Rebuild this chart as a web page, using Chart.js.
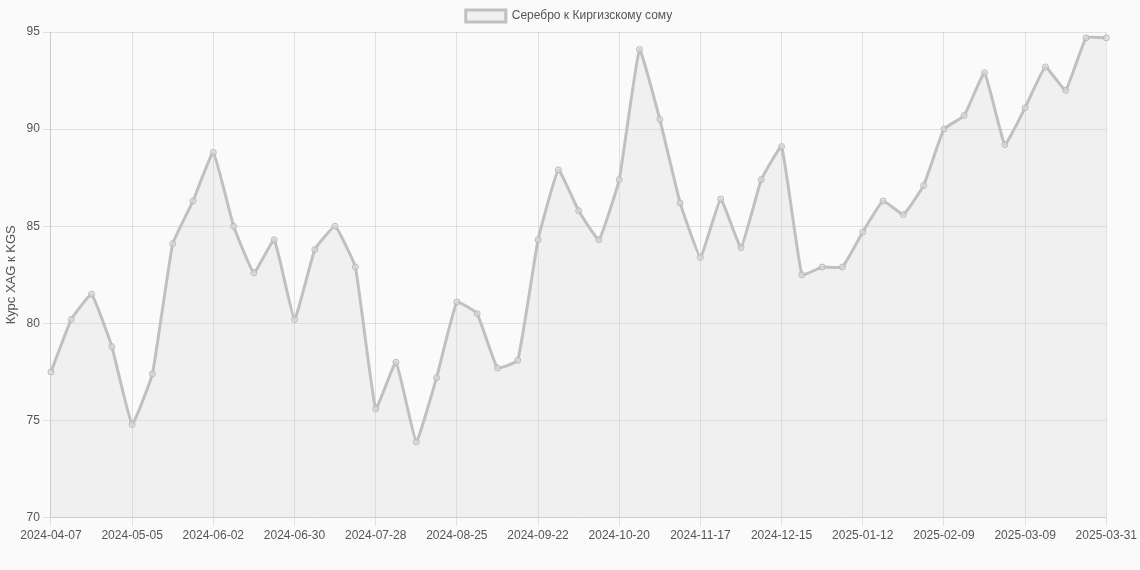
<!DOCTYPE html>
<html>
<head>
<meta charset="utf-8">
<script src="https://cdn.jsdelivr.net/npm/chart.js@4"></script>
<style>
  html, body { margin: 0; padding: 0; background: #fafafa; }
  #wrap { width: 1140px; height: 570px; }
</style>
</head>
<body>
<div id="wrap"><canvas id="chart"></canvas></div>
<script>
// weekly dates, last one is 2025-03-31
const dates = [];
(function () {
    const start = new Date('2024-04-07T12:00:00Z');
    for (let i = 0; i < 52; i++) {
        const d = new Date(start.getTime() + i * 7 * 86400000);
        dates.push(d.toISOString().slice(0, 10));
    }
    dates.push('2025-03-31');
})();

const rates = [
    77.5, 80.2, 81.5, 78.8, 74.8, 77.4, 84.1, 86.3, 88.8, 85.0,
    82.6, 84.3, 80.2, 83.8, 85.0, 82.9, 75.6, 78.0, 73.9, 77.2,
    81.1, 80.5, 77.7, 78.1, 84.3, 87.9, 85.8, 84.3, 87.4, 94.1,
    90.5, 86.2, 83.4, 86.4, 83.9, 87.4, 89.1, 82.5, 82.9, 82.9,
    84.7, 86.3, 85.6, 87.1, 90.0, 90.7, 92.9, 89.2, 91.1, 93.2,
    92.0, 94.7, 94.7
];

const seriesLabel = 'Серебро к Киргизскому сому';
const yTitle = 'Курс XAG к KGS';

Chart.defaults.font.family = "'Liberation Sans', Arial, sans-serif";
Chart.defaults.color = '#555';

new Chart(document.getElementById('chart'), {
    type: 'line',
    data: {
        labels: dates,
        datasets: [{
            label: seriesLabel,
            data: rates,
            borderColor: 'rgba(192,192,192,1)',
            backgroundColor: 'rgba(200,200,200,0.2)',
            borderWidth: 3,
            fill: true,
            tension: 0.1,
            pointRadius: 3,
            pointBackgroundColor: 'rgba(220,220,220,0.6)',
            pointBorderColor: 'rgba(185,185,185,1)',
            pointBorderWidth: 1
        }]
    },
    options: {
        responsive: true,
        maintainAspectRatio: false,
        animation: false,
        layout: { padding: { bottom: 24, right: 2 } },
        plugins: {
            legend: {
                position: 'top',
                labels: { boxWidth: 40, font: { size: 12 } }
            }
        },
        scales: {
            x: {
                grid: { color: 'rgba(0,0,0,0.1)' },
                ticks: {
                    autoSkip: false,
                    maxRotation: 0,
                    callback: function (value, i) {
                        return i % 4 === 0 ? this.getLabelForValue(value) : null;
                    }
                }
            },
            y: {
                min: 70,
                max: 95,
                grid: { color: 'rgba(0,0,0,0.1)' },
                ticks: { stepSize: 5 },
                title: { display: true, text: yTitle, font: { size: 13 } }
            }
        }
    }
});
</script>
</body>
</html>
